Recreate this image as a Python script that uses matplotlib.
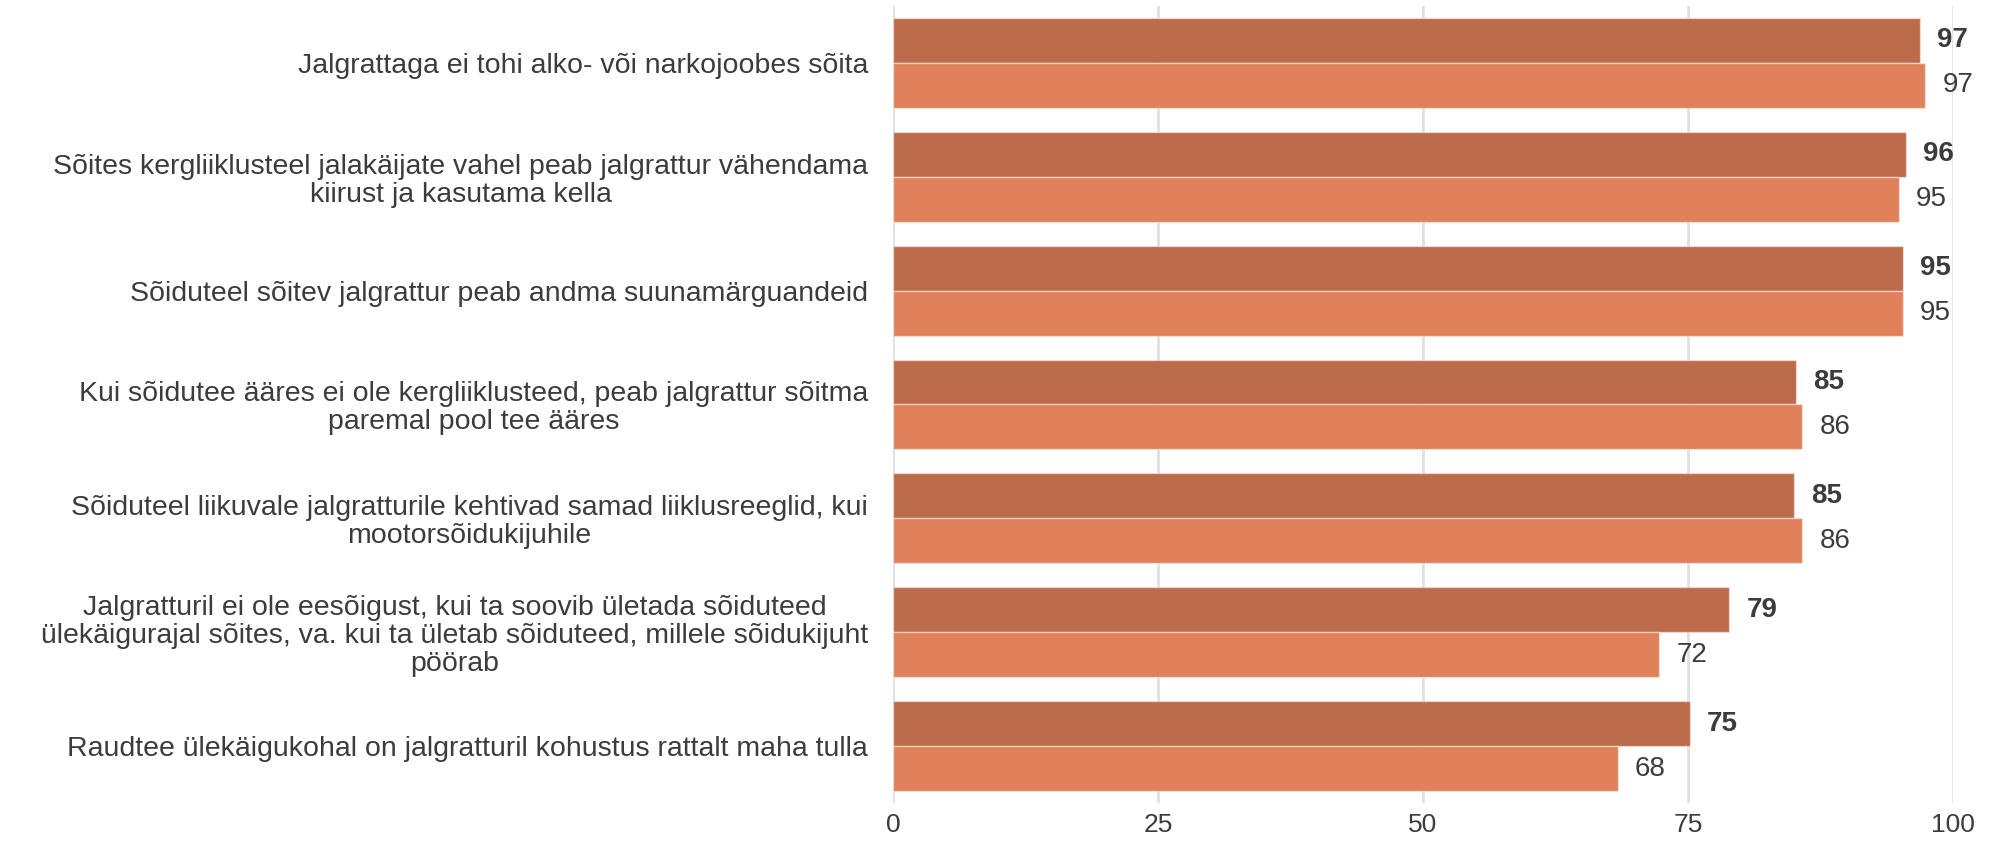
import matplotlib

matplotlib.use("Agg")
import matplotlib.pyplot as plt
import numpy as np

plt.rcParams["font.family"] = ["Liberation Sans", "DejaVu Sans"]

statements = [
    "Jalgrattaga ei tohi alko- või narkojoobes sõita",
    "Sõites kergliiklusteel jalakäijate vahel peab jalgrattur vähendama\nkiirust ja kasutama kella",
    "Sõiduteel sõitev jalgrattur peab andma suunamärguandeid",
    "Kui sõidutee ääres ei ole kergliiklusteed, peab jalgrattur sõitma\nparemal pool tee ääres",
    "Sõiduteel liikuvale jalgratturile kehtivad samad liiklusreeglid, kui\nmootorsõidukijuhile",
    "Jalgratturil ei ole eesõigust, kui ta soovib ületada sõiduteed\nülekäigurajal sõites, va. kui ta ületab sõiduteed, millele sõidukijuht\npöörab",
    "Raudtee ülekäigukohal on jalgratturil kohustus rattalt maha tulla",
]
share_dark = [96.9, 95.6, 95.3, 85.2, 85.0, 78.9, 75.2]
share_light = [97.4, 94.9, 95.3, 85.8, 85.8, 72.3, 68.4]
x_ticks = [0, 25, 50, 75, 100]

DARK = "#BC6C4B"
LIGHT = "#E1815C"
TEXT = "#3C3C3C"

fig = plt.figure(figsize=(19.92, 8.44), dpi=100)
ax = fig.add_axes([0.4483, 0.0486, 0.5321, 0.9443])

y = np.arange(len(statements))
h = 0.395
edge = (1, 1, 1, 0.45)
ax.barh(y - h / 2, share_dark, height=h, color=DARK, edgecolor=edge, linewidth=1, zorder=2)
ax.barh(y + h / 2, share_light, height=h, color=LIGHT, edgecolor=edge, linewidth=1, zorder=2)

for yi, v in zip(y, share_dark):
    ax.text(v + 1.6, yi - h / 2, f"{v:.0f}", va="center", ha="left",
            fontsize=20, fontweight="bold", color=TEXT)
for yi, v in zip(y, share_light):
    ax.text(v + 1.6, yi + h / 2, f"{v:.0f}", va="center", ha="left",
            fontsize=20, color=TEXT)

ax.set_xlim(0, 100)
ax.set_ylim(len(statements) - 0.5, -0.5)
ax.set_xticks(x_ticks)
ax.set_xticklabels([str(t) for t in x_ticks], fontsize=19, color=TEXT)
ax.set_yticks(y)
ax.set_yticklabels(statements, fontsize=20.5, color=TEXT,
                   multialignment="center", linespacing=1.1)
ax.tick_params(axis="y", length=0, pad=18)
ax.tick_params(axis="x", length=0, pad=7)

ax.grid(axis="x", color="#E0E0E0", linewidth=2, zorder=0)
ax.set_axisbelow(True)
for s in ax.spines.values():
    s.set_visible(False)

fig.savefig("out.png", dpi=100, facecolor="white")
